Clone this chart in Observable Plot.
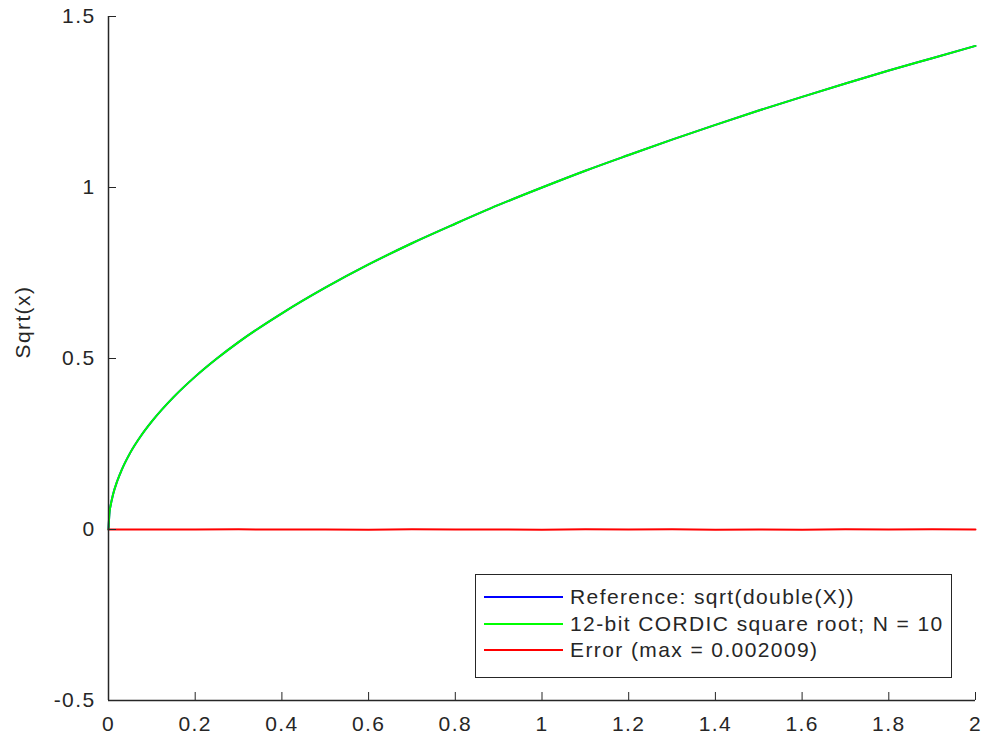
<!DOCTYPE html>
<html>
<head>
<meta charset="utf-8">
<script src="https://cdn.jsdelivr.net/npm/d3@7"></script>
<script src="https://cdn.jsdelivr.net/npm/@observablehq/plot@0.6"></script>
<style>
  html, body { margin: 0; padding: 0; background: #fff; }
  #wrap { position: relative; width: 983px; height: 742px; font-family: "Liberation Sans", Arial, sans-serif; }
  #wrap svg text { letter-spacing: 1.4px; }
  #legend { position: absolute; left: 475px; top: 574px; width: 477px; height: 104px; box-sizing: border-box;
    border: 1px solid #262626; background: #fff; font-size: 21px; letter-spacing: 1.4px; color: #262626; padding-top: 9px; }
  .row { display: flex; align-items: center; height: 26.5px; }
  .sw { width: 79px; height: 0; margin-left: 8px; margin-right: 7px; border-top: 2px solid; }
</style>
</head>
<body>
<div id="wrap"></div>
<script>
// x values
const xs = [0, 0.002, 0.005, 0.01, 0.02, 0.03, 0.05, 0.075, 0.1, 0.15, 0.2, 0.25, 0.3, 0.4, 0.5, 0.6, 0.7, 0.8, 0.9, 1.0, 1.1, 1.2, 1.3, 1.4, 1.5, 1.6, 1.7, 1.8, 1.9, 2.0];
// Reference: sqrt(double(X))
const refVals = [0, 0.045, 0.071, 0.1, 0.141, 0.173, 0.224, 0.274, 0.316, 0.387, 0.447, 0.5, 0.548, 0.632, 0.707, 0.775, 0.837, 0.894, 0.949, 1.0, 1.049, 1.095, 1.140, 1.183, 1.225, 1.265, 1.304, 1.342, 1.378, 1.414];
// 12-bit CORDIC square root; N = 10
const cordicVals = [0, 0.045, 0.071, 0.1, 0.141, 0.173, 0.224, 0.274, 0.316, 0.387, 0.447, 0.5, 0.548, 0.632, 0.707, 0.775, 0.837, 0.894, 0.949, 1.0, 1.049, 1.095, 1.140, 1.183, 1.225, 1.265, 1.304, 1.342, 1.378, 1.414];
// Error
const errX = [0, 0.1, 0.2, 0.3, 0.4, 0.5, 0.6, 0.7, 0.8, 0.9, 1.0, 1.1, 1.2, 1.3, 1.4, 1.5, 1.6, 1.7, 1.8, 1.9, 2.0];
const errVals = [0, 0.0003, -0.0002, 0.0004, -0.0003, 0.0002, -0.0004, 0.0005, -0.0003, 0.0003, -0.0004, 0.0005, -0.0002, 0.0004, -0.0005, 0.0003, -0.0004, 0.0006, -0.0003, 0.0004, -0.0002];

const xTicks = [0, 0.2, 0.4, 0.6, 0.8, 1, 1.2, 1.4, 1.6, 1.8, 2];
const yTicks = [-0.5, 0, 0.5, 1, 1.5];
const legendLabels = ["Reference: sqrt(double(X))", "12-bit CORDIC square root; N = 10", "Error (max = 0.002009)"];
const colors = ["#0000ff", "#00ff00", "#ff0000"];

const ref = xs.map((x, i) => ({x, y: refVals[i]}));
const cordic = xs.map((x, i) => ({x, y: cordicVals[i]}));
const err = errX.map((x, i) => ({x, y: errVals[i]}));

const axisColor = "#262626";
const chart = Plot.plot({
  width: 983,
  height: 742,
  marginLeft: 108,
  marginRight: 8,
  marginTop: 16,
  marginBottom: 42,
  style: { fontFamily: "Liberation Sans, Arial, sans-serif", fontSize: "21px", color: axisColor, background: "#fff" },
  x: { domain: [0, 2] },
  y: { domain: [-0.5, 1.5] },
  marks: [
    Plot.line(ref, { x: "x", y: "y", stroke: colors[0], strokeWidth: 2, curve: "monotone-x" }),
    Plot.line(cordic, { x: "x", y: "y", stroke: colors[1], strokeWidth: 2, curve: "monotone-x" }),
    Plot.line(err, { x: "x", y: "y", stroke: colors[2], strokeWidth: 2 }),
    Plot.ruleX([0], { stroke: axisColor, strokeWidth: 1.5 }),
    Plot.ruleY([-0.5], { stroke: axisColor, strokeWidth: 1.5 }),
    Plot.axisX({ ticks: xTicks, tickSize: -8, tickPadding: 24, fontSize: 21, tickFormat: d => String(d), stroke: axisColor, label: null }),
    Plot.axisY({ ticks: yTicks, tickSize: -8, tickPadding: 21, fontSize: 21, tickFormat: d => String(d), stroke: axisColor, label: null }),
    Plot.text(["Sqrt(x)"], { frameAnchor: "left", dx: -85, rotate: -90, fontSize: 21, fill: axisColor })
  ]
});

const wrap = document.getElementById("wrap");
wrap.appendChild(chart);
const lg = document.createElement("div");
lg.id = "legend";
legendLabels.forEach((t, i) => {
  const r = document.createElement("div");
  r.className = "row";
  const s = document.createElement("span");
  s.className = "sw";
  s.style.borderTopColor = colors[i];
  const l = document.createElement("span");
  l.textContent = t;
  r.appendChild(s); r.appendChild(l);
  lg.appendChild(r);
});
wrap.appendChild(lg);
</script>
</body>
</html>
